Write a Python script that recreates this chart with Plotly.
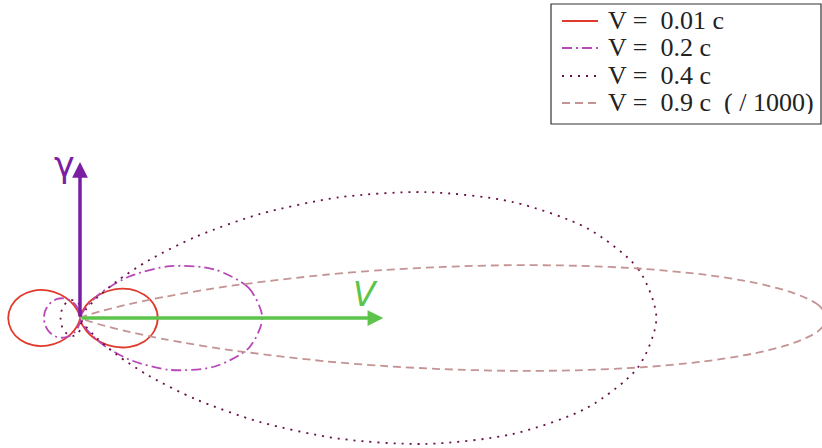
import numpy as np
import plotly.graph_objects as go

# polar samples (upper half, angle from V in degrees, radius in units)
th_001 = [0, 10, 20, 30, 40, 50, 60, 70, 80, 90, 100, 110, 120, 130, 140, 150, 160, 170, 180]
r_001 = [1.041, 1.008, 0.9146, 0.7716, 0.598, 0.416, 0.2474, 0.1125, 0.027, 0.0001,
         0.0334, 0.1214, 0.2524, 0.4101, 0.5752, 0.7285, 0.8526, 0.9329, 0.961]

th_02 = [0, 10, 20, 30, 40, 50, 60, 70, 80, 90, 100, 110, 120, 130, 140, 150, 160, 170, 180]
r_02 = [2.441, 2.2967, 1.908, 1.3886, 0.8689, 0.4477, 0.1694, 0.0308, 0.0009, 0.04,
        0.1137, 0.1975, 0.2766, 0.3438, 0.3968, 0.4358, 0.4622, 0.4773, 0.4823]

th_04 = [0, 5, 10, 15, 20, 25, 30, 35, 40, 45, 50, 55, 60, 70, 80, 90,
         100, 110, 120, 130, 140, 150, 160, 170, 180]
r_04 = [7.716, 7.503, 6.900, 5.999, 4.928, 3.820, 2.786, 1.902, 1.2036, 0.6933, 0.3507, 0.1439,
        0.0382, 0.0081, 0.0789, 0.16, 0.2199, 0.2551, 0.2713, 0.2755, 0.2735, 0.269, 0.2646,
        0.2614, 0.2603]

th_09 = [0, 1, 2, 3, 4, 5, 6, 7, 8, 9, 10, 12, 14, 16, 18, 20, 22, 24, 25.84, 90, 180]
r_09 = [10.0, 9.8881, 9.5599, 9.0384, 8.3573, 7.5608, 6.6937, 5.8013, 4.9235, 4.0931, 3.3337,
        2.0797, 1.1926, 0.6237, 0.2918, 0.1168, 0.0359, 0.0058, 0.0, 0.0008, 0.0001]

labels = ['V =\u00a0\u00a00.01 c', 'V =\u00a0\u00a00.2 c', 'V =\u00a0\u00a00.4 c',
          'V =\u00a0\u00a00.9 c\u00a0\u00a0( / 1000)']
colors = ['#e03a2c', '#b848b8', '#6a1048', '#c49494']
dashes = ['solid', '10px,4px,2px,4px', '2px,6px', '8px,5px']

v_len = 4.06
g_len = 2.09

W, H = 822, 448


def closed(th, r):
    th = list(th) + [360 - t for t in reversed(th[:-1])]
    r = list(r) + list(reversed(r[:-1]))
    a = np.radians(th)
    r = np.array(r)
    return r * np.cos(a), r * np.sin(a)


fig = go.Figure()
for (th, r), name, col, dash in zip(
        [(th_001, r_001), (th_02, r_02), (th_04, r_04), (th_09, r_09)], labels, colors, dashes):
    x, y = closed(th, r)
    fig.add_trace(go.Scatter(
        x=x, y=y, mode='lines', name=name, showlegend=False,
        line=dict(color=col, width=1.8, dash=dash, shape='spline', smoothing=0.8)
    ))

# arrows
fig.add_annotation(x=v_len, y=0, ax=0, ay=0, xref='x', yref='y', axref='x', ayref='y',
                   showarrow=True, arrowhead=2, arrowsize=0.9, arrowwidth=3.5, arrowcolor='#5cc44a', text='')
fig.add_annotation(x=0, y=g_len, ax=0, ay=0, xref='x', yref='y', axref='x', ayref='y',
                   showarrow=True, arrowhead=2, arrowsize=0.9, arrowwidth=3.5, arrowcolor='#7b1fa2', text='')
fig.add_annotation(x=3.82, y=0.31, xref='x', yref='y', showarrow=False, text='<i>V</i>',
                   font=dict(family='DejaVu Sans', size=33, color='#5cc44a'))
fig.add_annotation(x=-0.21, y=2.05, xref='x', yref='y', showarrow=False, text='γ',
                   font=dict(family='DejaVu Sans', size=35, color='#7b1fa2'))

# hand-made legend box (to get the tight row spacing)
fig.add_shape(type='rect', xref='paper', yref='paper',
              x0=551 / W, x1=821 / W, y0=1 - 124 / H, y1=1 - 4 / H,
              line=dict(color='#333333', width=1.2), fillcolor='white', layer='above')
row_y = [21, 48, 76, 103]
for name, col, dash, py in zip(labels, colors, dashes, row_y):
    fig.add_shape(type='line', xref='paper', yref='paper',
                  x0=562 / W, x1=598 / W, y0=1 - py / H, y1=1 - py / H,
                  line=dict(color=col, width=1.8, dash=dash), layer='above')
    fig.add_annotation(x=606 / W, y=1 - (py - 1) / H, xref='paper', yref='paper',
                       xanchor='left', yanchor='middle', showarrow=False, text=name,
                       height=24, valign='middle',
                       font=dict(family='Liberation Serif', size=26, color='#222222'))

fig.update_layout(
    width=W, height=H,
    margin=dict(l=0, r=0, t=0, b=0),
    plot_bgcolor='white', paper_bgcolor='white',
    showlegend=False,
)
fig.update_xaxes(range=[-1.071, 9.933], visible=False)
fig.update_yaxes(range=[-1.74, 4.257], visible=False)

fig.write_html("out.html", config={'displayModeBar': False},
               post_script="document.body.style.margin='0px';")
